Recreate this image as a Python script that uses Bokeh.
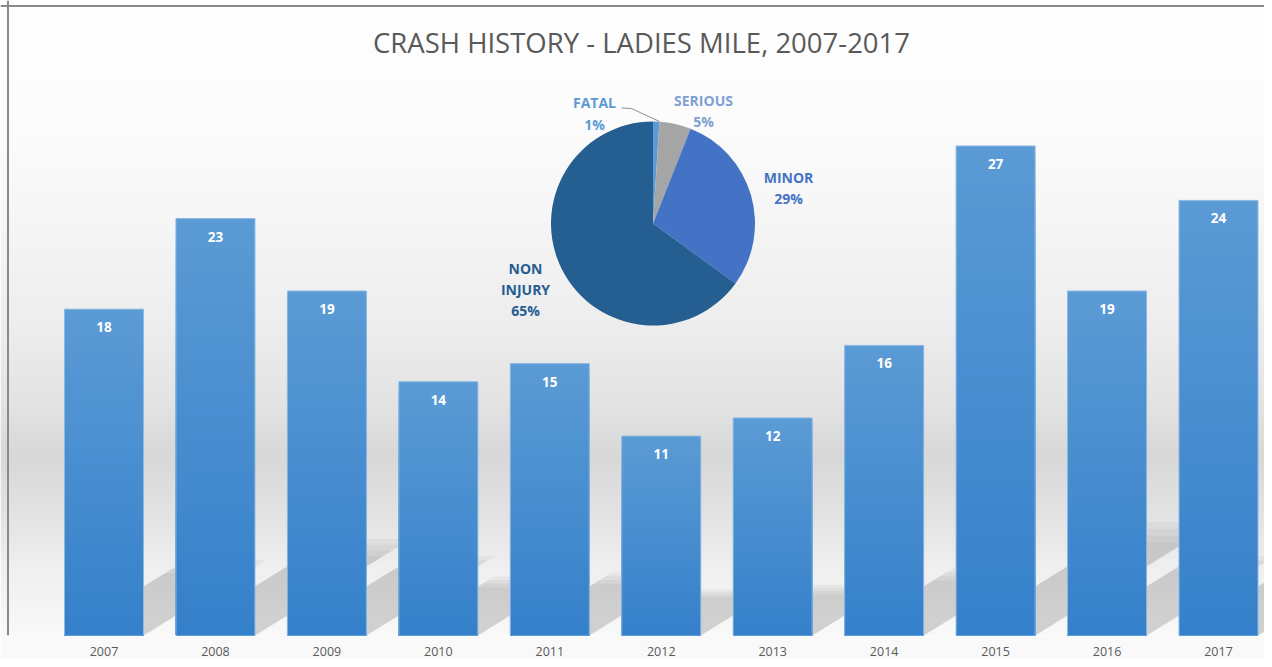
import numpy as np
from bokeh.plotting import figure
from bokeh.models import Range1d, Span, FixedTicker
from bokeh.core.properties import value
from bokeh.embed import file_html
from bokeh.resources import INLINE

# ---------------- data ----------------
years = ["2007", "2008", "2009", "2010", "2011", "2012", "2013", "2014", "2015", "2016", "2017"]
crashes = [18, 23, 19, 14, 15, 11, 12, 16, 27, 19, 24]
severity = ["FATAL", "SERIOUS", "MINOR", "NON INJURY"]
severity_pct = [1, 5, 29, 65]
chart_title = "CRASH HISTORY - LADIES MILE, 2007-2017"

# ---------------- layout (figure pixels) ----------------
W, H = 1264, 659
BOTTOM = 24    # axis panel height
X0 = 103.5     # x of first category centre
DX = 111.45    # px per category
Y0 = H - BOTTOM  # y of baseline (635)
DY = 18.13     # px per crash


def px(xp):
    return (xp - X0) / DX


def py(yp):
    return (Y0 - yp) / DY


x_start, x_end = px(0), px(W)
y_end = py(0)

p = figure(width=W, height=H, x_range=Range1d(x_start, x_end), y_range=Range1d(0, y_end),
           output_backend="svg", toolbar_location=None, y_axis_location=None,
           min_border_left=0, min_border_right=0, min_border_top=0, min_border_bottom=BOTTOM)
p.grid.visible = False
p.outline_line_color = None
p.background_fill_color = "#ffffff"
p.border_fill_color = "#f9f9f9"

# background vertical gradient
nrow = int(Y0)
row_y = Y0 - (np.arange(nrow) + 0.5)
stops_y = [0, 120, 220, 320, 400, 455, 510, 570, 635]
stops_v = [255, 252, 246, 238, 228, 216, 226, 240, 249]
gray = np.interp(row_y, stops_y, stops_v).astype(np.uint8)
img = np.empty((nrow, 2), dtype=np.uint32)
view = img.view(dtype=np.uint8).reshape((nrow, 2, 4))
view[:, :, 0] = gray[:, None]
view[:, :, 1] = gray[:, None]
view[:, :, 2] = gray[:, None]
view[:, :, 3] = 255
p.image_rgba(image=[img], x=x_start, y=0, dw=x_end - x_start, dh=y_end)

# frame lines (top & left)
p.add_layout(Span(location=py(5.5), dimension="width", line_color="#8a8a8a", line_width=2))
p.add_layout(Span(location=px(7.5), dimension="height", line_color="#8a8a8a", line_width=2))

idx = list(range(len(years)))
bw = 79 / DX

# bar shadows (soft, layered)
for scale, alpha in [(1.0, 0.10), (0.94, 0.10), (0.88, 0.10), (0.82, 0.10)]:
    sxs, sys_ = [], []
    for i, v in zip(idx, crashes):
        hs = 4.2 * v * scale
        dxs = hs / 0.62 / DX
        hy = hs / DY
        sxs.append([i - bw / 2, i + bw / 2, i + bw / 2 + dxs, i - bw / 2 + dxs])
        sys_.append([0, 0, hy, hy])
    p.patches(sxs, sys_, fill_color="#8a8a8a", fill_alpha=alpha, line_color=None)

# bars with vertical gradient (overlapping layers)
top_c = np.array([0x5B, 0x9B, 0xD5])
bot_c = np.array([0x35, 0x80, 0xCA])
N = 40
bx, btop, bcol = [], [], []
for k in range(N):
    frac = 1 - k / N
    c = (bot_c + (top_c - bot_c) * frac).astype(int)
    col = "#%02x%02x%02x" % tuple(c)
    for i, v in zip(idx, crashes):
        bx.append(i)
        btop.append(v * frac)
        bcol.append(col)
p.vbar(x=bx, top=btop, bottom=0, width=bw, fill_color=bcol, line_color=None)
p.vbar(x=idx, top=crashes, bottom=0, width=bw, fill_color=None, line_color="#8cb9e4", line_width=1)

# value labels
p.text(x=idx, y=[v - 18 / DY for v in crashes], text=[str(v) for v in crashes],
       text_color="white", text_font=value("Open Sans"), text_font_style="bold",
       text_font_size="13.5px", text_align="center", text_baseline="middle")

# pie
pcx, pcy, pr = 652.5, 223.0, 102
pie_colors = ["#5B9BD5", "#A5A5A5", "#4472C4", "#255E91"]
tot = sum(severity_pct)
cum = np.concatenate([[0], np.cumsum(severity_pct)]) / tot
starts = [np.pi / 2 - 2 * np.pi * a for a in cum[:-1]]
ends = [np.pi / 2 - 2 * np.pi * a for a in cum[1:]]
p.wedge(x=px(pcx), y=py(pcy), radius=pr, radius_units="screen", start_angle=starts,
        end_angle=ends, direction="clock", fill_color=pie_colors, line_color=None)

# leader line for FATAL
p.line(x=[px(621), px(631), px(659)], y=[py(107.5), py(108), py(121)], line_color="#8c8c8c", line_width=1)

label_colors = ["#5B9BD5", "#7FA0D3", "#4472C4", "#255E91"]
lab_pos = [(594, [102, 124]), (703, [100, 121]), (788, [177, 198]), (525, [268, 289, 310])]
lt, lx, ly, lc = [], [], [], []
for name, pct, col, (xp, yps) in zip(severity, severity_pct, label_colors, lab_pos):
    lines = name.split(" ") + ["%d%%" % pct]
    for s, yp in zip(lines, yps):
        lt.append(s)
        lx.append(px(xp))
        ly.append(py(yp))
        lc.append(col)
p.text(x=lx, y=ly, text=lt, text_color=lc, text_font=value("Open Sans"), text_font_style="bold",
       text_font_size="14px", text_align="center", text_baseline="middle")

# title
p.text(x=[px(641)], y=[py(42)], text=[chart_title], text_color="#595959",
       text_font=value("Open Sans"), text_font_size="27.5px", text_align="center",
       text_baseline="middle")

# x axis
p.xaxis.ticker = FixedTicker(ticks=idx)
p.xaxis.major_label_overrides = {i: y for i, y in zip(idx, years)}
p.xaxis.axis_line_color = None
p.xaxis.major_tick_line_color = None
p.xaxis.major_tick_out = 0
p.xaxis.major_tick_in = 0
p.xaxis.minor_tick_line_color = None
p.xaxis.major_label_standoff = 11
p.xaxis.major_label_text_font = "Open Sans"
p.xaxis.major_label_text_font_size = "12.5px"
p.xaxis.major_label_text_color = "#595959"

open("out.html", "w").write(file_html(p, INLINE))
